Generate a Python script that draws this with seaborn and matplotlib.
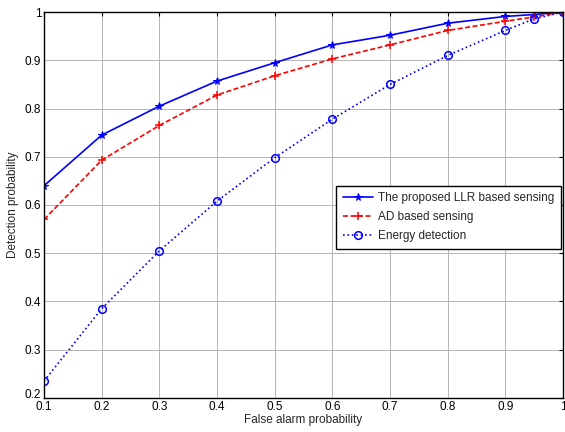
import matplotlib
matplotlib.use("Agg")
import matplotlib.pyplot as plt
import matplotlib.transforms as mtrans
import seaborn as sns
import pandas as pd

# values
pfa = [0.1, 0.2, 0.3, 0.4, 0.5, 0.6, 0.7, 0.8, 0.9, 0.95, 1.0]
pd_llr = [0.64, 0.745, 0.805, 0.857, 0.895, 0.932, 0.952, 0.977, 0.991, 0.995, 1.0]
pd_ad = [0.57, 0.693, 0.765, 0.828, 0.868, 0.903, 0.932, 0.962, 0.981, 0.99, 1.0]
pd_ed = [0.235, 0.385, 0.505, 0.608, 0.698, 0.778, 0.85, 0.91, 0.962, 0.986, 1.0]
labels = ["The proposed LLR based sensing", "AD based sensing", "Energy detection"]

df = pd.DataFrame({"pfa": pfa, "llr": pd_llr, "ad": pd_ad, "ed": pd_ed})

sns.set_style("white")
plt.rcParams["font.family"] = ["Liberation Sans", "DejaVu Sans"]

fig = plt.figure(figsize=(5.65, 4.32), dpi=100)
ax = fig.add_axes([0.078, 0.079, 0.9185, 0.893])

sns.lineplot(data=df, x="pfa", y="llr", ax=ax, color="blue", linestyle="-",
             marker="*", markersize=5.5, markeredgecolor="blue", lw=1.2, label=labels[0])
sns.lineplot(data=df, x="pfa", y="ad", ax=ax, color="red", linestyle=(0, (3, 1.5)),
             marker="+", markersize=6, markeredgewidth=1.1, markeredgecolor="red",
             lw=1.2, label=labels[1])
sns.lineplot(data=df, x="pfa", y="ed", ax=ax, color="blue", linestyle=":",
             marker="o", markersize=5.5, markerfacecolor="none", markeredgecolor="blue",
             markeredgewidth=1.1, lw=1.2, label=labels[2])

ax.set_xlim(0.1, 1.0)
ax.set_ylim(0.2, 1.0)
ax.set_xticks([0.1, 0.2, 0.3, 0.4, 0.5, 0.6, 0.7, 0.8, 0.9, 1.0])
ax.set_xticklabels(["0.1", "0.2", "0.3", "0.4", "0.5", "0.6", "0.7", "0.8", "0.9", "1"])
ax.set_yticks([0.2, 0.3, 0.4, 0.5, 0.6, 0.7, 0.8, 0.9, 1.0])
ax.set_yticklabels(["0.2", "0.3", "0.4", "0.5", "0.6", "0.7", "0.8", "0.9", "1"])
ax.grid(True, color="#b4b4b4", lw=0.7)
ax.tick_params(direction="in", top=True, right=True, length=3, labelsize=8.5,
               pad=2, colors="black")
for sp in ax.spines.values():
    sp.set_color("black")
    sp.set_linewidth(1.0)

# lift the bottom y label a little so it sits clear of the first x label
ylab0 = ax.get_yticklabels()[0]
ylab0.set_transform(ylab0.get_transform() + mtrans.ScaledTranslation(0, 3 / 72, fig.dpi_scale_trans))

ax.set_xlabel("False alarm probability", fontsize=8.5, labelpad=1)
ax.set_ylabel("Detection probability", fontsize=8.5, labelpad=4)

leg = ax.legend(loc="upper right", bbox_to_anchor=(0.996, 0.55), fontsize=8.5,
                frameon=True, fancybox=False, framealpha=1, edgecolor="black",
                borderpad=0.55, labelspacing=0.6, handlelength=2.6, handletextpad=0.4,
                borderaxespad=0)
leg.get_frame().set_linewidth(1.0)

plt.savefig("out.png", dpi=100)
